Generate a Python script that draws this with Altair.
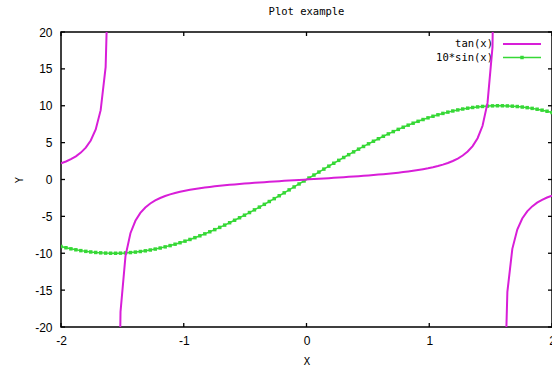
import altair as alt
import pandas as pd

# sample abscissae (gnuplot default 100 samples on [-2, 2])
xs = [
    -2.0, -1.9596, -1.9192, -1.8788, -1.8384, -1.798, -1.7576, -1.7172, -1.6768, -1.6364,
    -1.596, -1.5556, -1.5152, -1.4747, -1.4343, -1.3939, -1.3535, -1.3131, -1.2727, -1.2323,
    -1.1919, -1.1515, -1.1111, -1.0707, -1.0303, -0.9899, -0.9495, -0.9091, -0.8687, -0.8283,
    -0.7879, -0.7475, -0.7071, -0.6667, -0.6263, -0.5859, -0.5455, -0.5051, -0.4646, -0.4242,
    -0.3838, -0.3434, -0.303, -0.2626, -0.2222, -0.1818, -0.1414, -0.101, -0.0606, -0.0202,
    0.0202, 0.0606, 0.101, 0.1414, 0.1818, 0.2222, 0.2626, 0.303, 0.3434, 0.3838,
    0.4242, 0.4646, 0.5051, 0.5455, 0.5859, 0.6263, 0.6667, 0.7071, 0.7475, 0.7879,
    0.8283, 0.8687, 0.9091, 0.9495, 0.9899, 1.0303, 1.0707, 1.1111, 1.1515, 1.1919,
    1.2323, 1.2727, 1.3131, 1.3535, 1.3939, 1.4343, 1.4747, 1.5152, 1.5556, 1.596,
    1.6364, 1.6768, 1.7172, 1.7576, 1.798, 1.8384, 1.8788, 1.9192, 1.9596, 2.0,
]

tan_vals = [
    2.185, 2.441, 2.753, 3.144, 3.647, 4.326, 5.291, 6.783, 9.401, 15.23,
    39.73, -65.61, -17.95, -10.38, -7.283, -5.595, -4.530, -3.795, -3.255, -2.841,
    -2.512, -2.244, -2.020, -1.830, -1.666, -1.523, -1.397, -1.284, -1.182, -1.090,
    -1.005, -0.927, -0.854, -0.787, -0.723, -0.664, -0.607, -0.553, -0.501, -0.452,
    -0.404, -0.358, -0.313, -0.269, -0.226, -0.184, -0.142, -0.101, -0.061, -0.020,
    0.020, 0.061, 0.101, 0.142, 0.184, 0.226, 0.269, 0.313, 0.358, 0.404,
    0.452, 0.501, 0.553, 0.607, 0.664, 0.723, 0.787, 0.854, 0.927, 1.005,
    1.090, 1.182, 1.284, 1.397, 1.523, 1.666, 1.830, 2.020, 2.244, 2.512,
    2.841, 3.255, 3.795, 4.530, 5.595, 7.283, 10.38, 17.95, 65.61, -39.73,
    -15.23, -9.401, -6.783, -5.291, -4.326, -3.647, -3.144, -2.753, -2.441, -2.185,
]

# branches of tan(x) between the asymptotes
tan_branch = [0] * 11 + [1] * 78 + [2] * 11

sin_vals = [
    -9.093, -9.254, -9.399, -9.529, -9.644, -9.743, -9.826, -9.893, -9.944, -9.979,
    -9.997, -9.999, -9.985, -9.954, -9.907, -9.844, -9.765, -9.670, -9.559, -9.433,
    -9.291, -9.134, -8.962, -8.775, -8.575, -8.360, -8.131, -7.889, -7.635, -7.368,
    -7.089, -6.798, -6.496, -6.184, -5.861, -5.529, -5.188, -4.839, -4.481, -4.116,
    -3.745, -3.367, -2.984, -2.596, -2.204, -1.808, -1.409, -1.008, -0.606, -0.202,
    0.202, 0.606, 1.008, 1.409, 1.808, 2.204, 2.596, 2.984, 3.367, 3.745,
    4.116, 4.481, 4.839, 5.188, 5.529, 5.861, 6.184, 6.496, 6.798, 7.089,
    7.368, 7.635, 7.889, 8.131, 8.360, 8.575, 8.775, 8.962, 9.134, 9.291,
    9.433, 9.559, 9.670, 9.765, 9.844, 9.907, 9.954, 9.985, 9.999, 9.997,
    9.979, 9.944, 9.893, 9.826, 9.743, 9.644, 9.529, 9.399, 9.254, 9.093,
]

x_ticks = [-2, -1, 0, 1, 2]
y_ticks = [-20, -15, -10, -5, 0, 5, 10, 15, 20]
series_labels = ["tan(x)", "10*sin(x)"]

W, H = 491, 295
MAGENTA = "#d81ed8"
GREEN = "#36d836"
MONO = "DejaVu Sans Mono"
SANS = "Liberation Sans"

df_tan = pd.DataFrame({"x": xs, "y": tan_vals, "branch": tan_branch})
df_sin = pd.DataFrame({"x": xs, "y": sin_vals})
df_xt = pd.DataFrame({"x": x_ticks})
df_yt = pd.DataFrame({"y": y_ticks})

xscale = alt.Scale(domain=[-2, 2], nice=False, zero=False)
yscale = alt.Scale(domain=[-20, 20], nice=False, zero=False)
xaxis = alt.Axis(
    values=x_ticks, ticks=False, domain=False, grid=False, labelFont=SANS,
    labelFontSize=12, labelColor="#000", labelPadding=8, title="X",
    titleFont=MONO, titleFontSize=10.5, titleFontWeight="normal",
    titleColor="#000", titlePadding=10, labelExpr="toString(datum.value)",
    labelFlush=False,
)
yaxis = alt.Axis(
    values=y_ticks, ticks=False, domain=False, grid=False, labelFont=SANS,
    labelFontSize=12, labelColor="#000", labelPadding=9, title="Y",
    titleFont=MONO, titleFontSize=10.5, titleFontWeight="normal",
    titleColor="#000", titlePadding=10, labelExpr="toString(datum.value)",
    labelFlush=False,
)

X = lambda f: alt.X(f, type="quantitative", scale=xscale, axis=xaxis)
Y = lambda f: alt.Y(f, type="quantitative", scale=yscale, axis=yaxis)

# legend (drawn first, curves go over it as in gnuplot)
leg_tan_txt = alt.Chart(pd.DataFrame({"label": [series_labels[0]]})).mark_text(
    align="right", baseline="middle", font=MONO, fontSize=10.5, color="#000"
).encode(text="label:N", x=alt.value(432), y=alt.value(12))
leg_sin_txt = alt.Chart(pd.DataFrame({"label": [series_labels[1]]})).mark_text(
    align="right", baseline="middle", font=MONO, fontSize=10.5, color="#000"
).encode(text="label:N", x=alt.value(432), y=alt.value(25.5))
leg_tan_line = alt.Chart(pd.DataFrame({"label": [series_labels[0]]})).mark_rule(
    color=MAGENTA, strokeWidth=2
).encode(x=alt.value(442), x2=alt.value(480), y=alt.value(12))
leg_sin_line = alt.Chart(pd.DataFrame({"label": [series_labels[1]]})).mark_rule(
    color=GREEN, strokeWidth=1.5
).encode(x=alt.value(442), x2=alt.value(480), y=alt.value(25.5))
leg_sin_pt = alt.Chart(pd.DataFrame({"label": [series_labels[1]]})).mark_point(
    shape="square", filled=True, size=12, color=GREEN, opacity=1
).encode(x=alt.value(461), y=alt.value(25.5))

# inward tick marks on all four sides
tick_b = alt.Chart(df_xt).mark_rule(color="#000", strokeWidth=1.3).encode(
    x=X("x"), y=alt.value(H), y2=alt.value(H - 4))
tick_t = alt.Chart(df_xt).mark_rule(color="#000", strokeWidth=1.3).encode(
    x=X("x"), y=alt.value(0), y2=alt.value(4))
tick_l = alt.Chart(df_yt).mark_rule(color="#000", strokeWidth=1.3).encode(
    y=Y("y"), x=alt.value(0), x2=alt.value(4))
tick_r = alt.Chart(df_yt).mark_rule(color="#000", strokeWidth=1.3).encode(
    y=Y("y"), x=alt.value(W - 4), x2=alt.value(W))

sin_line = alt.Chart(df_sin).mark_line(
    color=GREEN, strokeWidth=1.5, clip=True,
    point=alt.OverlayMarkDef(shape="square", filled=True, size=12, color=GREEN, opacity=1),
).encode(x=X("x"), y=Y("y"))

tan_line = alt.Chart(df_tan).mark_line(
    color=MAGENTA, strokeWidth=2, clip=True
).encode(x=X("x"), y=Y("y"), detail="branch:N")

chart = alt.layer(
    leg_tan_txt, leg_sin_txt, leg_tan_line, leg_sin_line, leg_sin_pt,
    tick_b, tick_t, tick_l, tick_r, sin_line, tan_line,
).properties(
    width=W, height=H,
    title=alt.Title("Plot example", font=MONO, fontSize=10.5, fontWeight="normal",
                    color="#000", anchor="middle", offset=9),
    autosize=alt.AutoSizeParams(type="none"),
    padding={"left": 61, "top": 32, "right": 0, "bottom": 45},
    background="white",
).configure_view(stroke="#000", strokeWidth=1.5)

chart.save("out.html", embed_options={"renderer": "svg", "actions": False})
